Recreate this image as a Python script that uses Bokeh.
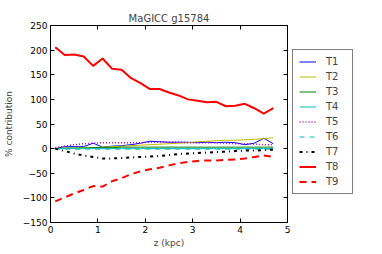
from bokeh.plotting import figure
from bokeh.layouts import row
from bokeh.models import Range1d, LinearAxis, Legend, LegendItem, FixedTicker, CustomJSTickFormatter
from bokeh.embed import file_html
from bokeh.resources import INLINE

# data
z = [0.1, 0.3, 0.5, 0.7, 0.9, 1.1, 1.3, 1.5, 1.7, 1.9, 2.1, 2.3,
     2.5, 2.7, 2.9, 3.1, 3.3, 3.5, 3.7, 3.9, 4.1, 4.3, 4.5, 4.7]
T1 = [0, 4, 4, 4, 11, 3, 5, 6, 8, 11, 15, 14, 13, 13, 13, 12, 13, 12, 13, 12, 8, 11, 21, 10]
T2 = [0, 1, 1, 2, 2, 3, 4, 5, 6, 7, 8, 9, 10, 11, 12, 14, 15, 16, 17, 17, 18, 19, 20, 22]
T3 = [0, 1, 1, 1, 2, 2, 2, 3, 3, 3, 3, 3, 3, 3, 3, 3, 3, 3, 3, 3, 3, 3, 3, 3]
T4 = [0, 0, 0, 0, 0, 0, 0, 0, 0, 0, 0, 0, 0, 0, 0, 0, 0, 0, 0, 0, 0, 0, 0, 0]
T5 = [2, 5, 8, 10, 11, 12, 12, 12, 12, 12, 13, 13, 13, 13, 12, 12, 12, 12, 11, 10, 10, 9, 8, 8]
T6 = [-1, -1, -1, -1, -1, -1, -1, -1, -1, -1, -1, -1, -1, -1, -1, -1, -1, -1, -1, -1, -1, -1, -1, -1]
T7 = [0, -5, -10, -14, -17, -20, -20, -19, -18, -17, -16, -15, -13, -11, -10, -9, -8, -7, -6, -5, -4, -4, -3, -2]
T8 = [206, 190, 191, 187, 168, 183, 162, 160, 143, 133, 121, 121, 114, 108, 100, 97, 94, 95, 86, 87, 91, 82, 71, 82]
T9 = [-107, -99, -91, -84, -76, -77, -66, -60, -52, -46, -42, -39, -34, -30, -27, -25, -24, -24, -23, -22, -20, -17, -14, -17]

names = ["T1", "T2", "T3", "T4", "T5", "T6", "T7", "T8", "T9"]
series = [T1, T2, T3, T4, T5, T6, T7, T8, T9]
x_ticks = [0, 1, 2, 3, 4, 5]
y_ticks = [-150, -100, -50, 0, 50, 100, 150, 200, 250]

styles = [
    dict(line_color="#0000ff", line_width=1),
    dict(line_color="#bfbf00", line_width=1),
    dict(line_color="#008000", line_width=1),
    dict(line_color="#00bfbf", line_width=1),
    dict(line_color="#bf00bf", line_width=1.5, line_dash="1 2"),
    dict(line_color="#00bfbf", line_width=1, line_dash="5 5"),
    dict(line_color="#000000", line_width=2, line_dash="3 4 1 4"),
    dict(line_color="#ff0000", line_width=2),
    dict(line_color="#ff0000", line_width=2, line_dash="7 5"),
]

FONT = "DejaVu Sans"
H = 250

p = figure(frame_width=237, frame_height=197,
           x_range=Range1d(0, 5), y_range=Range1d(-150, 250),
           output_backend="svg", toolbar_location=None,
           min_border_left=48, min_border_right=4, min_border_top=25, min_border_bottom=28,
           title="MaGICC g15784")
p.title.align = "center"
p.title.text_font = FONT
p.title.text_font_size = "10px"
p.title.text_font_style = "normal"
p.title.standoff = 4
p.xgrid.visible = False
p.ygrid.visible = False
p.outline_line_color = "black"
p.outline_line_width = 1
p.background_fill_color = "white"

fmt = CustomJSTickFormatter(code="return (tick < 0 ? '\u2212' : '') + Math.abs(tick);")
blank = CustomJSTickFormatter(code="return '';")

def style_axis(ax, ticks, show_labels):
    ax.ticker = FixedTicker(ticks=ticks)
    ax.minor_tick_line_color = None
    ax.major_tick_in = 4
    ax.major_tick_out = 0
    ax.axis_line_color = "black"
    ax.major_tick_line_color = "black"
    ax.major_label_text_font = FONT
    ax.major_label_text_font_size = "9px"
    ax.major_label_text_color = "black"
    ax.major_label_standoff = 3 if show_labels else 0
    ax.axis_label_text_font = FONT
    ax.axis_label_text_font_size = "9px"
    ax.axis_label_text_font_style = "normal"
    ax.axis_label_standoff = 2
    if not show_labels:
        ax.formatter = blank

style_axis(p.xaxis[0], x_ticks, True)
style_axis(p.yaxis[0], y_ticks, True)
p.yaxis[0].formatter = fmt
p.yaxis[0].axis_label_standoff = 6
p.xaxis[0].axis_label = "z (kpc)"
p.yaxis[0].axis_label = "% contribution"

top = LinearAxis()
style_axis(top, x_ticks, False)
p.add_layout(top, "above")
right = LinearAxis()
style_axis(right, y_ticks, False)
p.add_layout(right, "right")

for ys, st in zip(series, styles):
    p.line(z, ys, **st)

# legend panel (same series, ranges set so that only the legend shows)
p2 = figure(width=62, height=H, output_backend="svg", toolbar_location=None,
            x_axis_type=None, y_axis_type=None, min_border=0,
            x_range=Range1d(100, 101), y_range=Range1d(1000, 1001))
p2.xgrid.visible = False
p2.ygrid.visible = False
p2.outline_line_color = None
items = []
for name, ys, st in zip(names, series, styles):
    r = p2.line(z, ys, **st)
    items.append(LegendItem(label=name, renderers=[r]))

legend = Legend(items=items, location=(1, 28), margin=0, padding=6,
                spacing=4, glyph_width=17, glyph_height=11, label_height=11,
                label_standoff=10, label_text_font=FONT, label_text_font_size="10px",
                border_line_color="black", border_line_width=1,
                background_fill_color="white", background_fill_alpha=1)
p2.add_layout(legend, "center")

layout = row(p, p2)
open("out.html", "w").write(file_html(layout, INLINE))
